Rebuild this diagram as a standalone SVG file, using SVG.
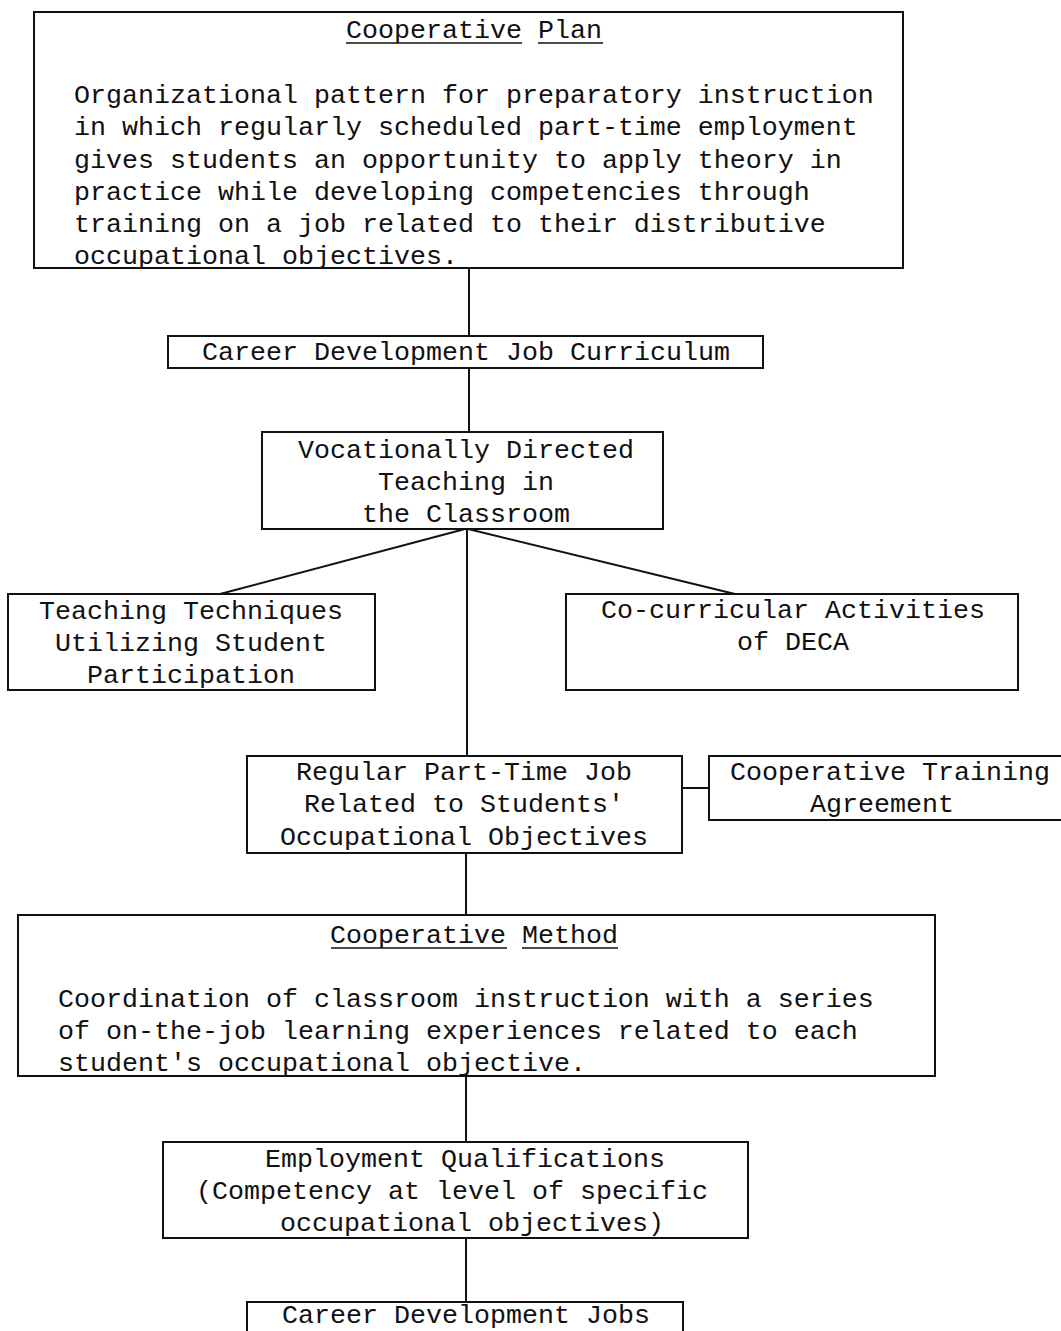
<svg xmlns="http://www.w3.org/2000/svg" width="1061" height="1331" viewBox="0 0 1061 1331">
<style>
.box{fill:none;stroke:#111;stroke-width:2}
.ln{fill:none;stroke:#111;stroke-width:2}
.ul{fill:none;stroke:#111;stroke-width:1.6}
text{font-family:"Liberation Mono","DejaVu Sans Mono",monospace;font-size:26.67px;fill:#111}
.c{text-anchor:middle}
</style>
<rect width="1061" height="1331" fill="#fff"/>
<g id="connectors">
<line class="ln" x1="469" y1="268" x2="469" y2="336"/>
<line class="ln" x1="469" y1="368" x2="469" y2="432"/>
<line class="ln" x1="465" y1="529" x2="220" y2="594"/>
<line class="ln" x1="468" y1="529" x2="735" y2="594"/>
<line class="ln" x1="467" y1="529" x2="467" y2="756"/>
<line class="ln" x1="682" y1="788" x2="709" y2="788"/>
<line class="ln" x1="466" y1="853" x2="466" y2="915"/>
<line class="ln" x1="466" y1="1076" x2="466" y2="1142"/>
<line class="ln" x1="466" y1="1238" x2="466" y2="1302"/>
</g>
<g id="cooperative-plan">
<rect class="box" x="34" y="12" width="869" height="256"/>
<text class="c" x="474" y="38">Cooperative Plan</text>
<line class="ul" x1="346" y1="43" x2="522" y2="43"/>
<line class="ul" x1="538" y1="43" x2="603" y2="43"/>
<text x="74" y="103">Organizational pattern for preparatory instruction</text>
<text x="74" y="135">in which regularly scheduled part-time employment</text>
<text x="74" y="168">gives students an opportunity to apply theory in</text>
<text x="74" y="200">practice while developing competencies through</text>
<text x="74" y="232">training on a job related to their distributive</text>
<text x="74" y="264">occupational objectives.</text>
</g>
<g id="career-development-job-curriculum">
<rect class="box" x="168" y="336" width="595" height="32"/>
<text class="c" x="466" y="360">Career Development Job Curriculum</text>
</g>
<g id="vocationally-directed">
<rect class="box" x="262" y="432" width="401" height="97"/>
<text class="c" x="466" y="458">Vocationally Directed</text>
<text class="c" x="466" y="490">Teaching in</text>
<text class="c" x="466" y="522">the Classroom</text>
</g>
<g id="teaching-techniques">
<rect class="box" x="8" y="594" width="367" height="96"/>
<text class="c" x="191" y="619">Teaching Techniques</text>
<text class="c" x="191" y="651">Utilizing Student</text>
<text class="c" x="191" y="683">Participation</text>
</g>
<g id="co-curricular">
<rect class="box" x="566" y="594" width="452" height="96"/>
<text class="c" x="793" y="618">Co-curricular Activities</text>
<text class="c" x="793" y="650">of DECA</text>
</g>
<g id="regular-part-time-job">
<rect class="box" x="247" y="756" width="435" height="97"/>
<text class="c" x="464" y="780">Regular Part-Time Job</text>
<text class="c" x="464" y="812">Related to Students'</text>
<text class="c" x="464" y="845">Occupational Objectives</text>
</g>
<g id="cooperative-training-agreement">
<rect class="box" x="709" y="756" width="360" height="64"/>
<text class="c" x="890" y="780">Cooperative Training</text>
<text class="c" x="882" y="812">Agreement</text>
</g>
<g id="cooperative-method">
<rect class="box" x="18" y="915" width="917" height="161"/>
<text class="c" x="474" y="943">Cooperative Method</text>
<line class="ul" x1="331" y1="948" x2="507" y2="948"/>
<line class="ul" x1="522" y1="948" x2="618" y2="948"/>
<text x="58" y="1007">Coordination of classroom instruction with a series</text>
<text x="58" y="1039">of on-the-job learning experiences related to each</text>
<text x="58" y="1071">student's occupational objective.</text>
</g>
<g id="employment-qualifications">
<rect class="box" x="163" y="1142" width="585" height="96"/>
<text class="c" x="465" y="1167">Employment Qualifications</text>
<text class="c" x="452" y="1199">(Competency at level of specific</text>
<text class="c" x="472" y="1231">occupational objectives)</text>
</g>
<g id="career-development-jobs">
<rect class="box" x="247" y="1302" width="436" height="60"/>
<text class="c" x="466" y="1323">Career Development Jobs</text>
</g>
</svg>
